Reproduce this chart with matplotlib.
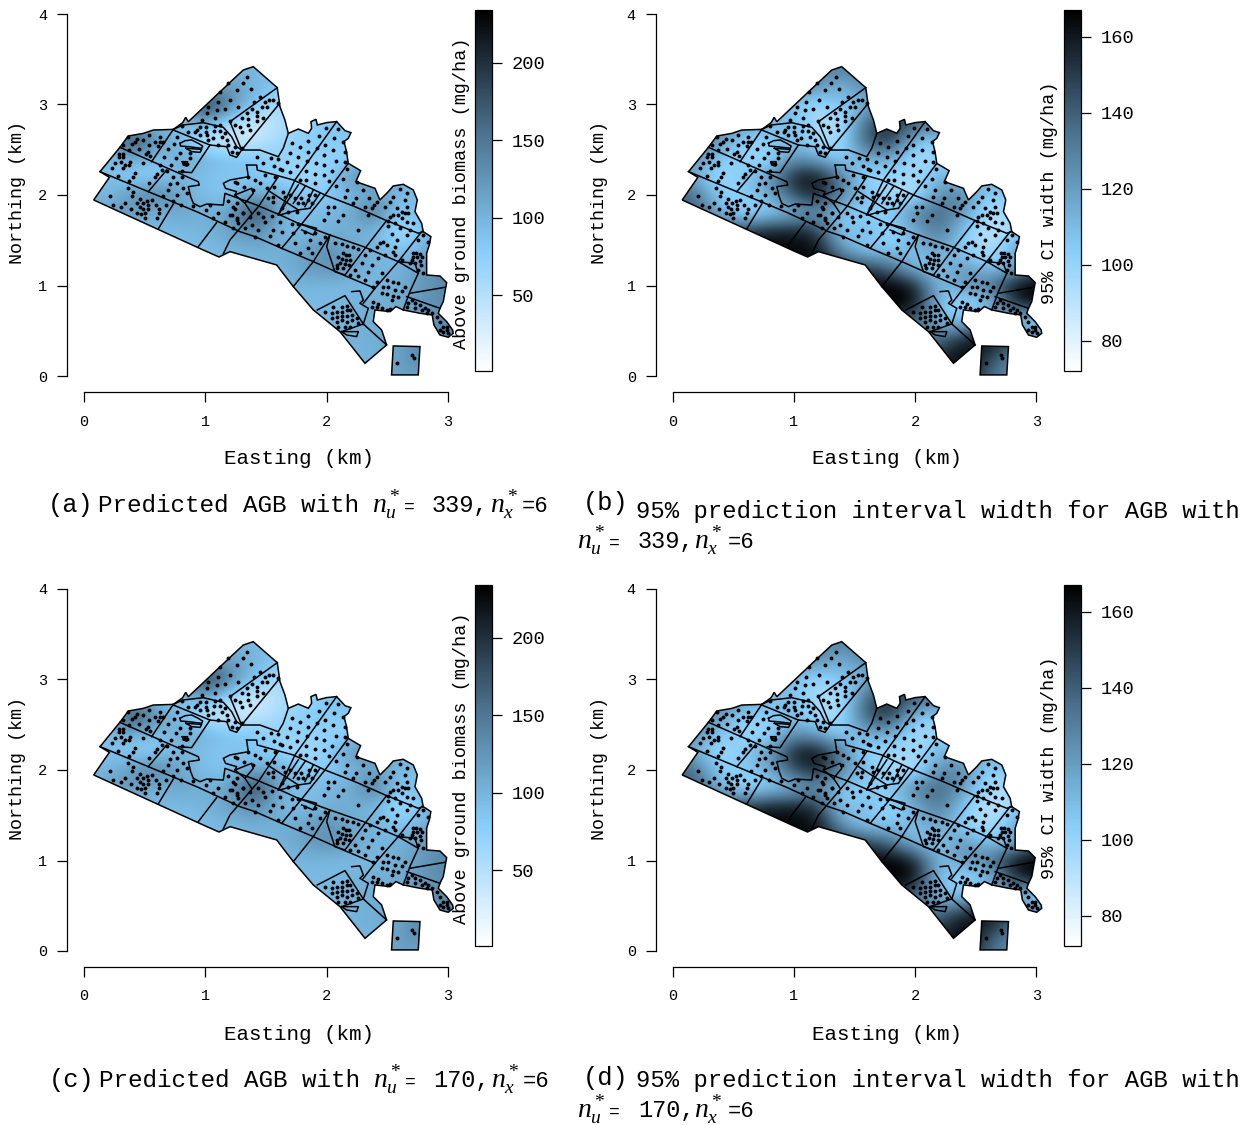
#!/usr/bin/env python3
"""Predicted AGB and 95% interval width maps for two knot configurations."""

import numpy as np
import matplotlib
matplotlib.use("Agg")
import matplotlib.pyplot as plt
from matplotlib.cm import ScalarMappable
from matplotlib.colors import LinearSegmentedColormap, Normalize
from matplotlib.patches import PathPatch
from matplotlib.path import Path

plt.rcParams["font.family"] = ["Liberation Mono", "DejaVu Sans Mono"]
plt.rcParams["mathtext.fontset"] = "custom"
plt.rcParams["mathtext.it"] = "Liberation Serif:italic"
plt.rcParams["mathtext.rm"] = "Liberation Serif"

# ─── Study area (km) ─────────────────────────────────────────────────
outline_x = [0.08, 0.209, 0.132, 0.296, 0.365, 0.489, 0.571, 0.736, 0.813, 0.838, 0.86, 1.23, 1.313, 1.395,
             1.593, 1.615, 1.656, 1.684, 1.766, 1.849, 1.876, 1.871, 1.912, 1.923, 2.0, 2.082, 2.151, 2.2,
             2.178, 2.143, 2.164, 2.178, 2.28, 2.241, 2.398, 2.439, 2.508, 2.549, 2.631, 2.714, 2.747, 2.728,
             2.783, 2.796, 2.859, 2.846, 2.824, 2.824, 2.934, 2.989, 2.961, 2.934, 2.92, 2.989, 3.038, 3.043,
             3.002, 2.934, 2.884, 2.87, 2.769, 2.631, 2.571, 2.522, 2.398, 2.384, 2.453, 2.494, 2.316, 2.11, 1.89,
             1.725, 1.588, 1.203, 1.113, 0.983]
outline_y = [1.945, 2.195, 2.258, 2.527, 2.652, 2.681, 2.718, 2.725, 2.799, 2.858, 2.81, 3.278, 3.381, 3.418,
             3.186, 2.976, 2.829, 2.681, 2.729, 2.682, 2.737, 2.811, 2.836, 2.774, 2.8, 2.811, 2.711, 2.689,
             2.626, 2.59, 2.479, 2.35, 2.269, 2.148, 2.074, 1.945, 2.037, 2.1, 2.118, 2.056, 1.945, 1.816,
             1.687, 1.595, 1.54, 1.448, 1.356, 1.116, 1.105, 1.032, 0.822, 0.748, 0.693, 0.601, 0.509, 0.472,
             0.428, 0.453, 0.564, 0.674, 0.693, 0.73, 0.767, 0.711, 0.73, 0.601, 0.509, 0.343, 0.14, 0.49, 0.73,
             0.988, 1.227, 1.374, 1.315, 1.392]
block_x = [2.549, 2.769, 2.755, 2.535]
block_y = [0.332, 0.325, 0.012, 0.012]

# stand boundaries, one (x, y) list per line
stand_lines = [
    ([0.296, 0.942, 0.95, 0.86, 0.879, 0.901, 0.956, 1.011, 1.148, 1.162, 1.423, 1.615, 1.766, 2.027, 2.302, 2.59, 2.755],
     [2.527, 2.147, 2.11, 2.092, 1.982, 1.908, 1.871, 1.9, 1.889, 2.018, 1.889, 1.78, 1.687, 1.558, 1.43, 1.264, 1.135]),
    ([0.132, 0.53, 0.942, 1.285, 1.409, 1.629, 1.89, 2.137, 2.398],
     [2.258, 2.037, 1.808, 1.595, 1.54, 1.411, 1.264, 1.116, 0.969]),
    ([1.34, 1.423, 1.428, 1.725, 1.986, 2.233, 2.494, 2.755, 2.796],
     [2.331, 2.331, 2.276, 2.166, 2.0, 1.871, 1.717, 1.577, 1.595]),
    ([2.082, 1.739, 1.601], [2.811, 2.166, 1.78]),
    ([1.601, 1.437, 1.203, 1.148], [2.203, 1.871, 1.503, 1.35]),
    ([2.178, 1.986, 1.78, 1.629], [2.35, 2.0, 1.656, 1.411]),
    ([2.494, 2.316, 2.151], [1.717, 1.411, 1.116]),
    ([2.783, 2.59, 2.398, 2.302], [1.595, 1.264, 0.969, 0.803]),
    ([2.027, 1.89, 1.725], [1.558, 1.264, 0.988]),
    ([0.736, 0.557], [2.725, 2.368]),
    ([0.53, 0.681], [2.037, 2.276]),
    ([0.612, 0.736], [1.625, 1.9]),
    ([0.942, 1.093], [1.429, 1.694]),
    ([1.593, 1.203, 1.299], [3.186, 2.81, 2.497]),
    ([1.601, 1.299], [2.994, 2.497]),
    ([0.736, 0.813, 0.983, 1.148, 1.217, 1.258, 1.299], [2.725, 2.773, 2.799, 2.748, 2.644, 2.534, 2.497]),
    ([0.736, 1.038, 1.176, 1.203, 1.258, 1.299, 1.45, 1.601, 1.642, 1.684],
     [2.718, 2.552, 2.534, 2.442, 2.416, 2.497, 2.497, 2.423, 2.516, 2.681]),
    ([1.038, 0.887, 0.782], [2.552, 2.247, 2.258]),
    ([1.34, 1.354, 1.203, 1.148, 1.167, 1.258, 1.244, 1.382, 1.395, 1.327, 1.382],
     [2.331, 2.202, 2.166, 2.129, 2.073, 2.037, 2.0, 2.074, 2.018, 1.908, 1.797]),
    ([1.244, 1.327], [2.0, 1.908]),
    ([1.923, 2.151, 2.302, 2.494], [0.73, 0.888, 0.575, 0.343]),
    ([2.123, 2.302], [0.49, 0.575]),
    ([2.123, 2.261, 2.247, 2.164, 2.123], [0.49, 0.49, 0.435, 0.454, 0.49]),
    ([2.206, 2.274, 2.302, 2.274, 2.343, 2.302], [0.932, 0.94, 0.84, 0.803, 0.748, 0.575]),
    ([2.686, 2.975], [0.914, 0.98]),
    ([2.659, 2.934], [0.877, 0.748]),
    ([2.755, 2.686, 2.631], [1.135, 0.932, 0.73]),
    ([2.59, 2.728, 2.755], [1.264, 1.245, 1.135]),
    ([2.027, 2.0, 2.027, 2.068, 2.151], [1.558, 1.43, 1.319, 1.153, 1.116]),
    ([1.766, 1.917, 1.89, 1.794], [1.687, 1.632, 1.558, 1.614]),
    ([1.533, 1.766, 1.862], [2.037, 1.835, 1.853]),
    ([1.766, 1.601], [2.111, 1.78]),
    ([1.821, 1.725], [2.092, 1.908]),
    ([1.89, 1.821], [2.056, 1.871]),
    ([1.945, 1.862], [2.019, 1.853]),
    ([1.615, 1.766], [1.78, 1.835]),
    ([0.791, 0.832, 0.887, 0.942, 0.978, 0.97, 0.86, 0.796, 0.791], [2.571, 2.6, 2.608, 2.571, 2.541, 2.516, 2.534, 2.541, 2.571]),
    ([0.84, 0.97, 0.956, 0.887, 0.84], [2.516, 2.504, 2.471, 2.479, 2.516]),
    ([0.81, 0.854, 0.846, 0.818, 0.81], [2.368, 2.368, 2.32, 2.331, 2.368]),
]

# ─── Observed locations (km) ─────────────────────────────────────────
plot_x = [1.346, 1.189, 1.307, 1.258, 1.376, 1.121, 1.45, 1.101, 1.206, 1.272, 1.4, 1.024, 1.093, 1.162, 1.011, 1.079, 0.97, 1.203,
          1.56, 1.527, 1.491, 1.601, 1.464, 1.423, 1.382, 1.34, 1.505, 1.423, 1.299, 1.354, 1.423, 1.244, 1.285, 1.354, 1.299, 1.368, 1.478,
          0.805, 0.86, 0.928, 0.956, 1.005, 1.079, 1.12, 0.915, 1.002, 1.071, 1.12, 1.162, 0.956, 1.011, 1.06, 1.134, 1.024, 1.176, 1.189, 1.107, 1.244, 1.217, 1.258, 1.299,
          0.365, 0.439, 0.538, 0.626, 0.42, 0.489, 0.585, 0.626, 0.324, 0.393, 0.538, 0.453, 0.53, 0.612, 0.371, 0.508, 0.544, 0.648,
          0.291, 0.324, 0.285, 0.324, 0.379, 0.302, 0.338, 0.373, 0.255, 0.483, 0.228, 0.318, 0.42, 0.283, 0.401, 0.373, 0.599, 0.585, 0.538, 0.626,
          0.769, 0.744, 0.695, 0.791, 0.659, 0.873, 0.755, 0.824, 0.846, 0.717, 0.64, 0.805, 0.873,
          0.681, 0.73, 0.805, 0.763, 0.709, 0.818, 0.695, 0.846, 0.648, 0.763, 0.73, 0.796, 0.895,
          0.214, 0.36, 0.401, 0.393, 0.461, 0.338, 0.557, 0.522, 0.489, 0.439, 0.242, 0.302, 0.384, 0.461, 0.53, 0.593, 0.676, 0.439, 0.483, 0.53, 0.502, 0.47, 0.621, 0.618, 0.599, 0.502,
          1.038, 1.005, 1.107, 1.189, 1.258, 1.244, 1.203, 1.162, 1.066, 1.258, 1.313, 1.23, 1.258, 1.318, 1.354,
          1.939, 1.994, 2.096, 1.711, 1.849, 1.986, 2.06, 2.137, 1.78, 1.923, 1.849, 2.055, 2.151, 1.697, 1.766, 1.98, 1.675, 1.835, 1.912, 2.077, 2.151, 1.615, 1.752, 1.98, 2.041, 1.697, 1.829, 1.903, 1.98, 1.78, 1.829, 1.903, 2.022,
          1.428, 1.538, 1.601, 1.478, 1.566, 1.629, 1.491, 1.409, 1.574, 1.45, 1.395, 1.505, 1.244, 1.568, 1.642, 1.697,
          1.656, 1.739, 1.785, 1.854, 1.903, 1.849, 1.766, 1.807, 1.876, 1.519, 1.555, 1.56, 1.629, 1.684, 1.752,
          2.17, 2.137, 2.077, 2.247, 2.164, 2.296, 2.351, 2.151, 2.241, 2.008, 2.06, 2.219, 2.316, 2.412, 2.39, 2.371, 2.013, 2.137, 2.096, 1.98, 2.343, 2.261,
          2.604, 2.659, 2.549, 2.522, 2.645, 2.48, 2.577, 2.659, 2.549, 2.618, 2.59, 2.645, 2.522, 2.673, 2.618, 2.508, 2.563, 2.659, 2.714, 2.508, 2.686, 2.604, 2.535, 2.467, 2.659, 2.577, 2.439, 2.494, 2.563, 2.412, 2.549, 2.48, 2.563, 2.618, 2.357,
          2.068, 2.123, 2.164, 2.219, 2.261, 2.137, 2.159, 2.096, 2.186, 2.123, 2.159, 2.192, 2.11, 2.151, 2.082, 2.186, 2.137, 2.088,
          2.316, 2.425, 2.37, 2.288, 2.233, 2.343, 2.453, 2.316, 2.192, 2.384, 2.261, 2.412,
          2.796, 2.755, 2.837, 2.708, 2.736, 2.769, 2.714, 2.741, 2.783, 2.7, 2.769, 2.686, 2.728, 2.774, 2.755, 2.791,
          2.494, 2.549, 2.59, 2.645, 2.467, 2.508, 2.563, 2.618, 2.453, 2.494, 2.549, 2.59, 2.535, 2.384, 2.425, 2.453, 2.494, 2.522, 2.37, 2.412,
          2.7, 2.673, 2.728, 2.769, 2.659, 2.81, 2.837, 2.865, 2.728, 2.783, 2.824,
          2.906, 2.934, 2.961, 2.989, 3.002, 2.934, 2.961, 2.989,
          1.986, 2.055, 2.123, 2.164, 2.041, 2.082, 2.123, 2.164, 2.192, 2.041, 2.082, 2.123, 2.164, 2.206, 2.082, 2.123, 2.164, 2.206, 2.247, 2.096, 2.151, 2.192, 2.261,
          2.706, 2.719, 2.582,
          1.258, 1.313, 1.23, 1.272, 1.217, 1.368, 1.437, 1.478, 1.546, 1.382, 1.327, 1.437, 1.491, 1.56, 1.615, 1.711, 1.766, 1.533, 1.409, 1.601, 1.629, 1.725, 1.862, 1.78, 1.849, 1.945, 1.876, 1.986, 1.821, 1.903, 1.739]
plot_y = [3.307, 3.234, 3.234, 3.16, 3.167, 3.134, 3.086, 3.031, 3.05, 2.976, 3.024, 2.976, 2.939, 2.95, 2.91, 2.847, 2.829, 2.817,
          3.05, 3.05, 3.031, 3.013, 2.969, 2.921, 2.946, 2.902, 2.976, 2.876, 2.847, 2.836, 2.821, 2.773, 2.755, 2.773, 2.7, 2.718, 2.847,
          2.762, 2.7, 2.718, 2.747, 2.747, 2.762, 2.773, 2.7, 2.7, 2.711, 2.711, 2.681, 2.663, 2.663, 2.626, 2.644, 2.608, 2.608, 2.552, 2.552, 2.534, 2.479, 2.46, 2.516,
          2.637, 2.615, 2.663, 2.637, 2.589, 2.608, 2.589, 2.589, 2.552, 2.56, 2.552, 2.512, 2.479, 2.545, 2.497, 2.453, 2.431, 2.589,
          2.453, 2.453, 2.416, 2.416, 2.368, 2.368, 2.331, 2.331, 2.35, 2.35, 2.295, 2.295, 2.247, 2.21, 2.195, 2.158, 2.232, 2.195, 2.136, 2.331,
          2.637, 2.563, 2.508, 2.46, 2.423, 2.46, 2.405, 2.357, 2.342, 2.331, 2.276, 2.269, 2.405,
          2.269, 2.195, 2.202, 2.129, 2.121, 2.074, 2.055, 2.026, 1.993, 2.0, 1.937, 1.889, 1.878,
          1.989, 2.081, 2.037, 1.989, 1.952, 1.908, 1.945, 1.934, 1.908, 1.908, 1.889, 1.864, 1.842, 1.864, 1.889, 1.889, 1.893, 1.805, 1.842, 1.842, 1.797, 1.79, 1.845, 1.797, 1.742, 1.742,
          1.889, 1.834, 1.805, 1.937, 1.915, 1.842, 1.779, 1.705, 1.742, 1.724, 1.797, 1.632, 2.129, 2.092, 2.195,
          2.652, 2.737, 2.73, 2.571, 2.597, 2.553, 2.626, 2.59, 2.534, 2.516, 2.479, 2.498, 2.479, 2.461, 2.424, 2.442, 2.361, 2.376, 2.35, 2.38, 2.361, 2.288, 2.321, 2.332, 2.266, 2.258, 2.269, 2.232, 2.221, 2.166, 2.166, 2.137, 2.155,
          2.417, 2.406, 2.398, 2.35, 2.324, 2.277, 2.221, 2.166, 2.196, 2.129, 2.056, 2.074, 2.148, 2.092, 2.037, 2.0,
          1.982, 1.964, 1.964, 2.0, 2.0, 1.945, 1.908, 1.908, 1.908, 1.964, 1.927, 1.982, 1.853, 1.816, 1.816,
          2.288, 2.177, 2.1, 2.148, 2.056, 2.056, 1.964, 1.982, 1.971, 1.871, 1.864, 1.908, 1.871, 1.927, 1.89, 1.853, 1.798, 1.779, 1.717, 1.724, 1.779, 1.614,
          2.063, 2.019, 1.982, 1.927, 1.945, 1.871, 1.853, 1.871, 1.779, 1.816, 1.779, 1.798, 1.761, 1.798, 1.743, 1.717, 1.687, 1.706, 1.687, 1.658, 1.614, 1.632, 1.569, 1.485, 1.558, 1.503, 1.466, 1.448, 1.43, 1.43, 1.374, 1.337, 1.337, 1.282, 1.393,
          1.466, 1.455, 1.44, 1.43, 1.404, 1.356, 1.337, 1.319, 1.337, 1.29, 1.282, 1.282, 1.245, 1.238, 1.227, 1.227, 1.19, 1.19,
          1.337, 1.301, 1.227, 1.245, 1.172, 1.153, 1.135, 1.061, 1.116, 0.988, 1.105, 1.043,
          1.558, 1.503, 1.485, 1.356, 1.356, 1.348, 1.319, 1.319, 1.319, 1.282, 1.275, 1.245, 1.245, 1.227, 1.172, 1.135,
          1.061, 1.043, 1.024, 0.98, 0.988, 0.98, 0.951, 0.943, 0.914, 0.906, 0.884, 0.877, 0.84, 0.822, 0.796, 0.748, 0.73, 0.737, 0.767, 0.767,
          0.84, 0.811, 0.803, 0.785, 0.767, 0.748, 0.73, 0.693, 0.748, 0.73, 0.693,
          0.656, 0.601, 0.546, 0.509, 0.472, 0.509, 0.49, 0.546,
          0.711, 0.759, 0.767, 0.774, 0.693, 0.711, 0.711, 0.73, 0.73, 0.638, 0.656, 0.663, 0.663, 0.674, 0.601, 0.619, 0.601, 0.619, 0.638, 0.546, 0.538, 0.546, 0.582,
          0.236, 0.196, 0.14,
          1.743, 1.798, 1.871, 1.687, 1.779, 1.761, 1.798, 1.761, 1.768, 1.669, 1.632, 1.614, 1.706, 1.614, 1.706, 1.68, 1.68, 1.547, 1.54, 1.448, 1.595, 1.577, 1.503, 1.356, 1.411, 1.466, 1.356, 1.54, 1.595, 1.577, 1.466]

# ─── Surfaces: rows y = 3.4 ... 0, columns x = 0 ... 3 ─
agb_grid = [
    [90, 90, 90, 90, 90, 90, 95, 95, 90, 90, 90, 90, 90, 90, 90, 90],
    [90, 90, 90, 90, 90, 105, 120, 100, 85, 85, 85, 85, 85, 85, 85, 85],
    [90, 90, 90, 90, 115, 215, 140, 85, 55, 75, 85, 85, 85, 85, 85, 85],
    [90, 90, 90, 90, 85, 115, 60, 30, 50, 65, 85, 85, 90, 90, 90, 90],
    [90, 90, 210, 120, 95, 35, 30, 35, 60, 80, 80, 85, 100, 100, 100, 100],
    [90, 90, 110, 85, 110, 105, 85, 90, 70, 75, 70, 65, 125, 100, 100, 100],
    [85, 90, 75, 75, 100, 85, 85, 80, 70, 55, 70, 135, 125, 105, 100, 100],
    [100, 95, 125, 150, 110, 90, 85, 110, 110, 85, 75, 95, 110, 95, 90, 100],
    [100, 115, 125, 95, 115, 100, 115, 205, 105, 85, 100, 105, 160, 70, 105, 110],
    [95, 95, 100, 95, 95, 100, 115, 135, 100, 90, 100, 105, 95, 55, 80, 130],
    [92, 92, 92, 92, 88, 92, 100, 105, 105, 110, 135, 105, 105, 80, 105, 135],
    [92, 92, 92, 92, 92, 92, 92, 95, 100, 115, 135, 115, 95, 105, 120, 135],
    [92, 92, 92, 92, 92, 92, 92, 92, 92, 100, 95, 95, 95, 105, 125, 140],
    [92, 92, 92, 92, 92, 92, 92, 92, 92, 95, 95, 100, 105, 105, 125, 135],
    [92, 92, 92, 92, 92, 92, 92, 92, 92, 92, 100, 100, 105, 110, 125, 135],
    [92, 92, 92, 92, 92, 92, 92, 92, 92, 100, 100, 100, 105, 115, 130, 130],
    [92, 92, 92, 92, 92, 92, 92, 92, 92, 92, 100, 100, 100, 115, 150, 110],
    [92, 92, 92, 92, 92, 92, 92, 92, 92, 92, 92, 100, 105, 120, 105, 100],
]
width_grid = [
    [130, 130, 130, 130, 130, 130, 130, 130, 130, 130, 130, 130, 130, 130, 130, 130],
    [130, 130, 130, 130, 130, 130, 125, 110, 130, 130, 130, 130, 130, 130, 130, 130],
    [130, 130, 130, 130, 125, 105, 95, 110, 105, 145, 130, 130, 130, 130, 130, 130],
    [130, 130, 130, 125, 105, 110, 95, 90, 140, 155, 145, 130, 130, 130, 130, 130],
    [130, 135, 120, 100, 105, 110, 95, 95, 145, 155, 105, 105, 125, 130, 130, 130],
    [125, 125, 105, 100, 95, 125, 115, 100, 115, 115, 95, 95, 115, 130, 130, 130],
    [130, 110, 95, 105, 120, 160, 165, 130, 95, 100, 95, 115, 105, 115, 125, 130],
    [140, 135, 100, 105, 115, 145, 160, 125, 110, 95, 90, 125, 130, 100, 105, 125],
    [145, 140, 110, 95, 100, 110, 125, 105, 100, 105, 130, 140, 120, 95, 95, 125],
    [150, 150, 150, 150, 160, 160, 150, 100, 115, 95, 115, 135, 105, 90, 90, 125],
    [150, 150, 150, 165, 165, 165, 165, 120, 100, 105, 110, 120, 100, 90, 115, 135],
    [150, 150, 150, 150, 165, 165, 160, 155, 150, 135, 105, 105, 125, 105, 105, 140],
    [150, 150, 150, 150, 150, 165, 155, 155, 165, 168, 160, 105, 125, 130, 165, 168],
    [150, 150, 150, 150, 150, 150, 150, 160, 168, 168, 165, 105, 95, 100, 150, 168],
    [150, 150, 150, 150, 150, 150, 150, 150, 150, 150, 135, 110, 105, 140, 105, 90],
    [150, 150, 150, 150, 150, 150, 150, 150, 150, 150, 135, 135, 160, 165, 150, 130],
    [150, 150, 150, 150, 150, 150, 150, 150, 150, 150, 150, 155, 168, 150, 125, 125],
    [150, 150, 150, 150, 150, 150, 150, 150, 150, 150, 150, 150, 168, 135, 125, 120],
]

x_ticks = [0, 1, 2, 3]
y_ticks = [0, 1, 2, 3, 4]
agb_range = (1, 234)
agb_ticks = [50, 100, 150, 200]
width_range = (72, 167)
width_ticks = [80, 100, 120, 140, 160]

cmap = LinearSegmentedColormap.from_list(
    "agb", ["white", "lightskyblue", "#4A708B", "black"], N=256)

W, H = 1250, 1125
fig = plt.figure(figsize=(W / 100, H / 100), dpi=100)


def px_axes(left, top, right, bottom, **kw):
    return fig.add_axes([left / W, 1 - bottom / H, (right - left) / W, (bottom - top) / H], **kw)


def px_text(x, y, s, size, **kw):
    fig.text(x / W, 1 - y / H, s, fontsize=size, **kw)


def draw_panel(x0, dy, grid, rng, ticks, cb_left, cb_label, cb_label_x, north_x):
    # 121.33 px per km east, 90.5 px per km north
    ax = px_axes(x0 - 17, 14 + dy, x0 + 3.1 * 121.33, 392 + dy)
    ax.patch.set_visible(False)

    verts = list(zip(outline_x, outline_y)) + [(outline_x[0], outline_y[0])]
    codes = [Path.MOVETO] + [Path.LINETO] * (len(outline_x) - 1) + [Path.CLOSEPOLY]
    verts += list(zip(block_x, block_y)) + [(block_x[0], block_y[0])]
    codes += [Path.MOVETO] + [Path.LINETO] * (len(block_x) - 1) + [Path.CLOSEPOLY]
    area = Path(verts, codes)

    norm = Normalize(*rng)
    im = ax.imshow(np.array(grid, dtype=float), extent=(-0.1, 3.1, -0.1, 3.5), origin="upper",
                   cmap=cmap, norm=norm, interpolation="bicubic", aspect="auto")
    ax.set_xlim(-17 / 121.33, 3.1)
    ax.set_ylim(-16 / 90.5, 4)
    patch = PathPatch(area, facecolor="none", edgecolor="black", linewidth=1.1)
    ax.add_patch(patch)
    im.set_clip_path(patch)

    for xs, ys in stand_lines:
        ax.plot(xs, ys, color="black", linewidth=1.1)
    ax.plot(plot_x, plot_y, "o", color="black", markersize=2.8, markeredgewidth=0)

    for side in ("top", "right"):
        ax.spines[side].set_visible(False)
    ax.spines["left"].set_bounds(0, 4)
    ax.spines["bottom"].set_bounds(0, 3)
    ax.spines["left"].set_linewidth(0.9)
    ax.spines["bottom"].set_linewidth(0.9)
    ax.set_xticks(x_ticks)
    ax.set_yticks(y_ticks)
    ax.tick_params(axis="x", length=7.2, width=0.9, pad=9, labelsize=11)
    ax.tick_params(axis="y", length=7.2, width=0.9, pad=7, labelsize=11)

    px_text(x0 + 214.5, 459 + dy, "Easting (km)", 15, ha="center", va="center")
    px_text(north_x, 193 + dy, "Northing (km)", 13.2, ha="center", va="center", rotation=90)

    cax = px_axes(cb_left, 10 + dy, cb_left + 17, 371 + dy)
    cb = fig.colorbar(ScalarMappable(norm=norm, cmap=cmap), cax=cax)
    cb.set_ticks(ticks)
    cb.ax.tick_params(length=7.2, width=0.9, pad=7, labelsize=13.5)
    cb.outline.set_linewidth(0.9)
    px_text(cb_label_x, 193 + dy, cb_label, 13.3, ha="center", va="center", rotation=90)


def caption_one_line(letter, n, dx, dy):
    px_text(48 + dx, 512 + dy, letter, 18.3, va="baseline")
    px_text(98 + dx, 512 + dy, "Predicted AGB with", 17.5, va="baseline")
    px_text(372 + dx, 512 + dy, r"$n_u^*$", 20, va="baseline")
    px_text(404 + dx, 512 + dy, "=", 13, va="baseline")
    px_text(432 + dx, 512 + dy, f"{n},", 17, va="baseline")
    px_text(490 + dx, 512 + dy, r"$n_x^*$", 20, va="baseline")
    px_text(522 + dx, 512 + dy, "=6", 16, va="baseline")


def caption_two_lines(letter, n, dy_letter, dy):
    px_text(583, 510 + dy_letter, letter, 18.3, va="baseline")
    px_text(636, 518 + dy, "95% prediction interval width for AGB with", 17.2, va="baseline")
    px_text(577, 548 + dy, r"$n_u^*$", 20, va="baseline")
    px_text(609, 548 + dy, "=", 13, va="baseline")
    px_text(638, 548 + dy, f"{n},", 17, va="baseline")
    px_text(694, 548 + dy, r"$n_x^*$", 20, va="baseline")
    px_text(728, 548 + dy, "=6", 16, va="baseline")


agb_label = "Above ground biomass (mg/ha)"
width_label = "95% CI width (mg/ha)"
draw_panel(84, 0, agb_grid, agb_range, agb_ticks, 475, agb_label, 461, 18)
draw_panel(672.5, 0, width_grid, width_range, width_ticks, 1064, width_label, 1049, 600)
draw_panel(84, 575, agb_grid, agb_range, agb_ticks, 475, agb_label, 461, 18)
draw_panel(672.5, 575, width_grid, width_range, width_ticks, 1064, width_label, 1049, 600)

caption_one_line("(a)", 339, 0, 0)
caption_two_lines("(b)", 339, 0, 0)
caption_one_line("(c)", 170, 1, 575)
caption_two_lines("(d)", 170, 575, 569)

fig.savefig("out.png", dpi=100)
